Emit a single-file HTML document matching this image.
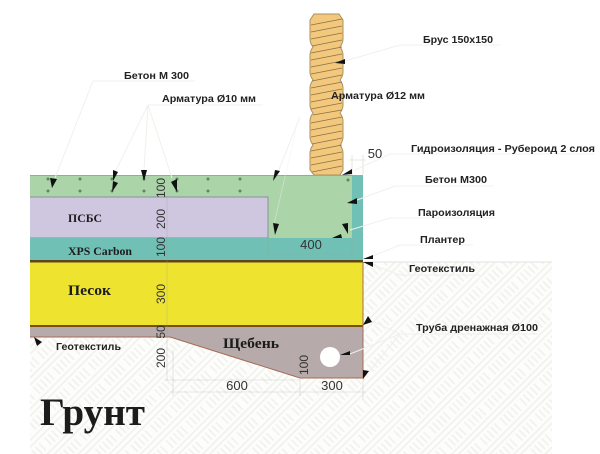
<!DOCTYPE html>
<html>
<head>
<meta charset="utf-8">
<style>
html,body{margin:0;padding:0;background:#fff;width:600px;height:454px;overflow:hidden}
svg{display:block}
.l{font:bold 10.5px "Liberation Sans",sans-serif;fill:#222}
.s{font-family:"Liberation Serif",serif;font-weight:bold;fill:#1c1c1c}
.n{font:12px "Liberation Sans",sans-serif;fill:#333;text-anchor:middle}
.h{font-size:13px}
</style>
</head>
<body>
<svg width="600" height="454" viewBox="0 0 600 454" xmlns="http://www.w3.org/2000/svg">
<defs>
<pattern id="w" width="28" height="22" patternUnits="userSpaceOnUse" patternTransform="rotate(-45)">
<rect width="28" height="22" fill="#fdfdfb"/>
<g stroke="#f0f0ec" stroke-width="1.6">
<path d="M0 2.500H28M0 7.500H28"/>
<path d="M2 11V21M7 11V21M12 11V21M17 11V21M22 11V21"/>
</g>
</pattern>
</defs>
<rect width="600" height="454" fill="#fff"/>
<rect x="30" y="262" width="522" height="192" fill="url(#w)"/>
<path d="M363 262H552" stroke="#e2e2de" stroke-width="1"/>

<!-- timber -->
<path d="M314 14H339L343 20V39Q343 43 340 47Q343 51 343 55V72Q343 76 340 80Q343 84 343 88V105Q343 109 340 113Q343 117 343 121V137Q343 141 340 145Q343 149 343 153V170L340 175H314L310 170V153Q310 149 313 145Q310 141 310 137V121Q310 117 313 113Q310 109 310 105V88Q310 84 313 80Q310 76 310 72V55Q310 51 313 47Q310 43 310 39V20Z" fill="#f3c87c" stroke="#a89060" stroke-width="1"/>
<g stroke="#86724a" stroke-width="0.8">
<path d="M311 25L342 19M311 32L342 26M311 39L342 33M312 46L342 40M311 53L342 47M311 60L342 54M311 67L342 61M311 74L342 68M312 81L342 75M311 88L342 82M311 95L342 89M311 102L342 96M311 109L342 103M313 115L342 110M311 123L342 117M311 130L342 124M311 137L342 131M312 144L342 138M311 151L342 145M311 158L342 152M311 165L342 159M312 172L342 166"/>
</g>

<!-- layers -->
<rect x="30" y="175" width="322" height="22" fill="#abd4a9"/>
<rect x="268" y="175" width="84" height="63" fill="#abd4a9"/>
<rect x="30" y="175" width="322" height="1" fill="#9aa89a"/>
<rect x="352" y="175" width="11" height="85" fill="#70c0b5"/>
<rect x="30" y="197" width="238" height="41" fill="#cfc6e0"/>
<path d="M30 197H268V238H30" fill="none" stroke="#8f8f9c" stroke-width="1"/>
<rect x="30" y="238" width="333" height="22" fill="#70c0b5"/>
<rect x="30" y="260" width="333" height="2.500" fill="#61451a"/>
<rect x="30" y="262.500" width="333" height="62.500" fill="#eee42f"/>
<rect x="30" y="325" width="333" height="2" fill="#7a4f16"/>
<path d="M30 327H363V378H300L170 337H30Z" fill="#b6abaa"/>
<path d="M30 337H170L300 378H363V262" fill="none" stroke="#a86a5a" stroke-width="1"/>
<circle cx="330" cy="357" r="10" fill="#fff"/>

<!-- rebar -->
<g fill="#5f8563">
<circle cx="48" cy="179" r="1.500"/><circle cx="80" cy="179" r="1.500"/><circle cx="112" cy="179" r="1.500"/><circle cx="144" cy="179" r="1.500"/><circle cx="177" cy="179" r="1.500"/><circle cx="208" cy="179" r="1.500"/><circle cx="240" cy="179" r="1.500"/>
<circle cx="48" cy="191" r="1.500"/><circle cx="80" cy="191" r="1.500"/><circle cx="112" cy="191" r="1.500"/><circle cx="144" cy="191" r="1.500"/><circle cx="177" cy="191" r="1.500"/><circle cx="208" cy="191" r="1.500"/><circle cx="240" cy="191" r="1.500"/>
<circle cx="348" cy="180" r="1.500"/>
</g>

<!-- dimension lines -->
<g stroke="#9d9d96" stroke-width="0.6" fill="none" opacity=".45">
<path d="M167 196V380M164 380H300M173 350V396M170 392H366M300 378V396M363 378V400"/>
<path d="M268 238V256M352 238V256M265 254H355M352 155V175M363 155V175M349 160H366"/>
</g>

<!-- leaders -->
<g stroke="#f0f0ec" stroke-width="1" fill="none">
<path d="M195 81H93L55 178"/>
<path d="M263 105H148L115 172M148 105L144 170M148 105L172 178"/>
<path d="M300 117L278 172"/>
<path d="M296 130L274 224" opacity=".4"/>
<path d="M500 45H400L345 61"/>
<path d="M595 154H390L355 170"/>
<path d="M493 186H395L357 200"/>
<path d="M495 218H390L350 230"/>
<path d="M473 245H400L373 256"/>
<path d="M480 275H400L373 265"/>
<path d="M538 334H400L350 354M400 334L370 320M400 334L369 372"/>
</g>

<!-- arrowheads -->
<g fill="#111">
<polygon points="52,188 50,178 57,179"/>
<polygon points="113,181 113,170 118,172"/>
<polygon points="112,192 113,181 118,183"/>
<polygon points="144,181 141,170 147,170"/>
<polygon points="177,192 171,182 177,179"/>
<polygon points="273,181 275,170 280,171"/>
<polygon points="275,235 273,223 279,224"/>
<polygon points="348,234 342,224 348,223"/>
<polygon points="332,238 341,234 342,238"/>
<polygon points="347,203 357,198 357,204"/>
<polygon points="342,175 352,169 352,174"/>
<polygon points="335,63 345,59 345,64"/>
<polygon points="363,259 373,255 373,259"/>
<polygon points="363,262 373,262 373,267"/>
<polygon points="363,325 368,316 372,322"/>
<polygon points="363,379 363,370 369,371"/>
<polygon points="340,355 350,351 350,355"/>
<polygon points="34,337 42,342 37,346"/>
</g>

<!-- labels -->
<text class="l" x="124" y="79" textLength="65" lengthAdjust="spacingAndGlyphs">Бетон М 300</text>
<text class="l" x="162" y="102" textLength="94" lengthAdjust="spacingAndGlyphs">Арматура Ø10 мм</text>
<text class="l" x="423" y="43" textLength="70" lengthAdjust="spacingAndGlyphs">Брус 150x150</text>
<text class="l" x="331" y="99" textLength="94" lengthAdjust="spacingAndGlyphs">Арматура Ø12 мм</text>
<text class="l" x="411" y="152" textLength="184" lengthAdjust="spacingAndGlyphs">Гидроизоляция - Рубероид 2 слоя</text>
<text class="l" x="425" y="183" textLength="62" lengthAdjust="spacingAndGlyphs">Бетон М300</text>
<text class="l" x="418" y="216" textLength="77" lengthAdjust="spacingAndGlyphs">Пароизоляция</text>
<text class="l" x="420" y="243" textLength="45" lengthAdjust="spacingAndGlyphs">Плантер</text>
<text class="l" x="409" y="272" textLength="66" lengthAdjust="spacingAndGlyphs">Геотекстиль</text>
<text class="l" x="416" y="331" textLength="122" lengthAdjust="spacingAndGlyphs">Труба дренажная Ø100</text>
<text class="l" x="56" y="350" textLength="65" lengthAdjust="spacingAndGlyphs">Геотекстиль</text>

<text class="s" x="68" y="222" font-size="12" textLength="34" lengthAdjust="spacingAndGlyphs">ПСБС</text>
<text class="s" x="68" y="255" font-size="12" textLength="64" lengthAdjust="spacingAndGlyphs">XPS Carbon</text>
<text class="s" x="68" y="295" font-size="15" textLength="43" lengthAdjust="spacingAndGlyphs">Песок</text>
<text class="s" x="223" y="348" font-size="15" textLength="56" lengthAdjust="spacingAndGlyphs">Щебень</text>
<text class="s" x="40" y="425" font-size="39" textLength="105" lengthAdjust="spacingAndGlyphs">Грунт</text>

<!-- numbers -->
<text class="n" transform="translate(165,188) rotate(-90)">100</text>
<text class="n" transform="translate(165,219) rotate(-90)">200</text>
<text class="n" transform="translate(165,247) rotate(-90)">100</text>
<text class="n" transform="translate(165,294) rotate(-90)">300</text>
<text class="n" transform="translate(165,332) rotate(-90)">50</text>
<text class="n" transform="translate(165,358) rotate(-90)">200</text>
<text class="n" transform="translate(308,365) rotate(-90)">100</text>
<text class="n h" x="237" y="390">600</text>
<text class="n h" x="332" y="390">300</text>
<text class="n h" x="311" y="249">400</text>
<text class="n h" x="375" y="158">50</text>
</svg>
</body>
</html>
